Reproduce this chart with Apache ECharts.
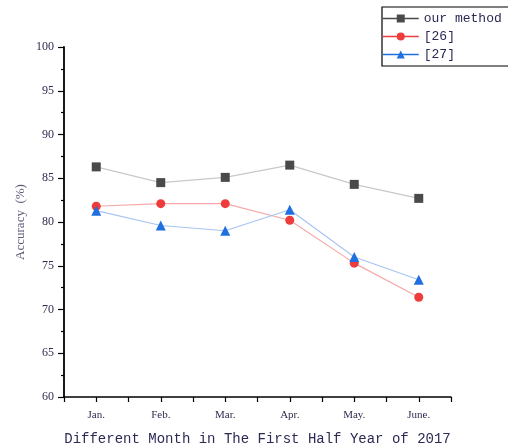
<!DOCTYPE html>
<html>
<head>
<meta charset="utf-8">
<script src="https://cdn.jsdelivr.net/npm/echarts@6/dist/echarts.min.js"></script>
<style>html,body{margin:0;padding:0;background:#fff;}#c{width:508px;height:448px;}</style>
</head>
<body>
<div id="c"></div>
<script>
const categories = ['Jan.', 'Feb.', 'Mar.', 'Apr.', 'May.', 'June.'];
const ourMethod = [86.3, 84.5, 85.1, 86.5, 84.3, 82.7];
const ref26 = [81.8, 82.1, 82.1, 80.2, 75.3, 71.4];
const ref27 = [81.3, 79.6, 79.0, 81.4, 76.0, 73.4];
const yTicks = {min: 60, max: 100, interval: 5};

const chart = echarts.init(document.getElementById('c'), null, {renderer: 'canvas'});
const labelColor = '#2e2e50';
const mono = 'Liberation Mono';
const serif = 'Liberation Serif';

chart.setOption({
  animation: false,
  backgroundColor: '#fff',
  grid: {left: 64, right: 57, top: 47, bottom: 51, containLabel: false, outerBoundsMode: 'none'},
  legend: {
    left: 382, top: 7,
    orient: 'vertical',
    borderColor: '#000', borderWidth: 1.2,
    padding: [5, 30, 5, 0],
    itemGap: 5,
    itemWidth: 36, itemHeight: 10,
    textStyle: {fontFamily: mono, fontSize: 13, color: '#2a2a55'},
    data: [
      {name: 'our method', itemStyle: {color: '#4a4a4a'}, lineStyle: {color: '#4a4a4a', width: 1.5}},
      {name: '[26]', itemStyle: {color: '#ee3b3b'}, lineStyle: {color: '#ee3b3b', width: 1.5}},
      {name: '[27]', itemStyle: {color: '#1f6fe0'}, lineStyle: {color: '#1f6fe0', width: 1.5}}
    ]
  },
  xAxis: [
    {
      type: 'category', data: categories, boundaryGap: true,
      axisLine: {show: true, lineStyle: {color: '#000', width: 1.5}},
      axisTick: {show: true, alignWithLabel: true, length: 5, lineStyle: {color: '#000', width: 1.2}},
      axisLabel: {fontFamily: serif, fontSize: 11, color: labelColor, margin: 13},
      name: 'Different Month in The First Half Year of 2017',
      nameLocation: 'middle', nameGap: 35,
      nameTextStyle: {fontFamily: mono, fontSize: 14, color: '#2a2a55'}
    },
    {
      type: 'category', data: categories, boundaryGap: true, position: 'bottom',
      axisLine: {show: false},
      axisTick: {show: true, length: 5, lineStyle: {color: '#000', width: 1.2}},
      axisLabel: {show: false}
    }
  ],
  yAxis: {
    type: 'value', min: yTicks.min, max: yTicks.max, interval: yTicks.interval,
    axisLine: {show: true, lineStyle: {color: '#000', width: 1.8}},
    axisTick: {show: true, length: 6, lineStyle: {color: '#000', width: 1.2}},
    minorTick: {show: true, splitNumber: 2, length: 3, lineStyle: {color: '#000', width: 1.2}},
    splitLine: {show: false},
    axisLabel: {fontFamily: serif, fontSize: 12, color: labelColor, margin: 10},
    name: 'Accuracy  (%)', nameLocation: 'middle', nameGap: 37, nameRotate: 90,
    nameMoveOverlap: false,
    nameTextStyle: {fontFamily: serif, fontSize: 13, color: '#5a5a78'}
  },
  series: [
    {name: 'our method', type: 'line', data: ourMethod, symbol: 'rect', symbolSize: 9,
     itemStyle: {color: '#4a4a4a'}, lineStyle: {color: '#c8c8c8', width: 1.2}},
    {name: '[26]', type: 'line', data: ref26, symbol: 'circle', symbolSize: 9,
     itemStyle: {color: '#ee3b3b'}, lineStyle: {color: '#f6a8a8', width: 1.2}},
    {name: '[27]', type: 'line', data: ref27, symbol: 'triangle', symbolSize: 10,
     itemStyle: {color: '#1f6fe0'}, lineStyle: {color: '#a8c4f2', width: 1.2}}
  ]
});
</script>
</body>
</html>
